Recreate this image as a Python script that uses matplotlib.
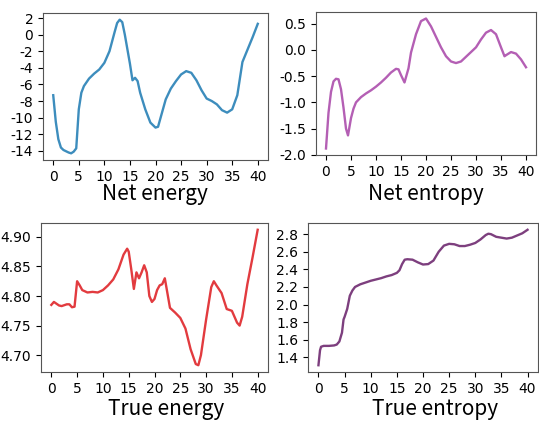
import numpy as np
import matplotlib.pyplot as plt
from matplotlib.ticker import FormatStrFormatter

# values
net_energy_t = [0, 0.5, 1, 1.5, 2, 3, 3.5, 4, 4.5, 5, 5.5, 6, 7, 8, 9, 10, 11, 12, 12.5, 13, 13.5,
                14, 15, 15.5, 16, 16.5, 17, 18, 19, 20, 20.5, 21, 22, 23, 24, 25, 26, 27, 28, 29,
                30, 31, 32, 33, 34, 35, 36, 37, 38, 39, 40]
net_energy = [-7.3, -10.5, -12.6, -13.6, -13.9, -14.2, -14.3, -14.1, -13.7, -9.0, -7.0, -6.2, -5.3,
              -4.7, -4.2, -3.4, -2.0, 0.3, 1.4, 1.8, 1.5, 0.0, -3.5, -5.5, -5.2, -5.6, -7.0, -9.0,
              -10.6, -11.2, -11.1, -10.0, -7.8, -6.5, -5.6, -4.8, -4.4, -4.6, -5.5, -6.7, -7.7,
              -8.0, -8.4, -9.1, -9.4, -9.0, -7.3, -3.3, -1.8, -0.3, 1.3]

net_entropy_t = [0, 0.5, 1, 1.5, 2, 2.5, 3, 3.5, 4, 4.4, 5, 5.5, 6, 7, 8, 9, 10, 11, 12, 13, 14,
                 14.5, 15, 15.7, 16.5, 17, 18, 19, 20, 21, 22, 23, 24, 25, 26, 27, 28, 29, 30, 31,
                 32, 33, 34, 35, 35.7, 36, 37, 38, 39, 40]
net_entropy = [-1.88, -1.2, -0.8, -0.6, -0.55, -0.56, -0.75, -1.1, -1.5, -1.63, -1.3, -1.12, -1.0,
               -0.9, -0.83, -0.77, -0.7, -0.62, -0.53, -0.43, -0.36, -0.37, -0.48, -0.62, -0.35,
               -0.05, 0.3, 0.55, 0.6, 0.45, 0.25, 0.05, -0.12, -0.22, -0.25, -0.22, -0.13, -0.04,
               0.05, 0.2, 0.33, 0.38, 0.3, 0.05, -0.12, -0.1, -0.04, -0.07, -0.18, -0.33]

true_energy_t = [0, 0.5, 1, 1.5, 2, 3, 3.5, 4, 4.5, 5, 5.5, 6, 7, 8, 9, 10, 11, 12, 13, 14, 14.7,
                 15, 15.5, 16, 16.5, 17, 17.5, 18, 18.5, 19, 19.5, 20, 20.5, 21, 21.5, 22, 22.5,
                 23, 24, 25, 26, 27, 28, 28.5, 29, 30, 31, 31.5, 32, 33, 34, 35, 36, 36.5, 37, 38,
                 39, 40]
true_energy = [4.785, 4.79, 4.787, 4.784, 4.783, 4.786, 4.786, 4.781, 4.782, 4.825, 4.818, 4.810,
               4.806, 4.807, 4.806, 4.81, 4.818, 4.828, 4.845, 4.87, 4.88, 4.875, 4.845, 4.812,
               4.84, 4.83, 4.84, 4.852, 4.84, 4.80, 4.79, 4.795, 4.81, 4.818, 4.82, 4.83, 4.805,
               4.78, 4.772, 4.763, 4.745, 4.71, 4.685, 4.683, 4.70, 4.76, 4.815, 4.825, 4.818,
               4.805, 4.778, 4.775, 4.755, 4.75, 4.765, 4.82, 4.865, 4.912]

true_entropy_t = [0, 0.3, 0.5, 1, 2, 3, 3.5, 4, 4.5, 4.8, 5, 5.5, 6, 6.5, 7, 8, 9, 10, 11, 12, 13,
                  14, 15, 15.5, 16, 16.5, 17, 18, 19, 20, 21, 22, 23, 24, 25, 26, 27, 28, 29, 30,
                  31, 32, 32.5, 33, 34, 35, 36, 37, 38, 39, 40]
true_entropy = [1.31, 1.48, 1.52, 1.53, 1.53, 1.535, 1.545, 1.58, 1.68, 1.83, 1.86, 1.95, 2.1,
                2.16, 2.2, 2.23, 2.25, 2.27, 2.285, 2.30, 2.32, 2.335, 2.36, 2.39, 2.46, 2.51,
                2.515, 2.51, 2.48, 2.455, 2.46, 2.5, 2.6, 2.67, 2.69, 2.685, 2.665, 2.665, 2.68,
                2.70, 2.74, 2.79, 2.805, 2.8, 2.77, 2.76, 2.75, 2.76, 2.785, 2.81, 2.85]

y_ticks = [
    (np.arange(-14, 3, 2), "%d"),
    (np.arange(-2.0, 0.51, 0.5), "%.1f"),
    (np.arange(4.70, 4.901, 0.05), "%.2f"),
    (np.arange(1.4, 2.81, 0.2), "%.1f"),
]

W, H = 539, 421
fig = plt.figure(figsize=(W / 100, H / 100), dpi=100)

def box(l, r, t, b):
    return [l / W, (H - b) / H, (r - l) / W, (b - t) / H]

panels = [
    (box(43, 268, 13, 160), net_energy_t, net_energy, "#3d8dbd", "Net energy", (155, 200)),
    (box(316, 536, 12, 155), net_entropy_t, net_entropy, "#b45fb4", "Net entropy", (426, 200)),
    (box(41, 268, 223, 372), true_energy_t, true_energy, "#e23b3f", "True energy", (166, 415)),
    (box(308, 538, 223, 372), true_entropy_t, true_entropy, "#7d3f7e", "True entropy", (435, 415)),
]

for (rect, t, v, color, label, (lx, ly)), (yt, fmt) in zip(panels, y_ticks):
    ax = fig.add_axes(rect)
    ax.plot(t, v, color=color, lw=1.7)
    ax.set_xticks(range(0, 41, 5))
    ax.set_yticks(yt)
    ax.yaxis.set_major_formatter(FormatStrFormatter(fmt))
    ax.tick_params(labelsize=10)
    for s in ax.spines.values():
        s.set_color("#555555")
    fig.text(lx / W, (H - ly) / H, label, ha="center", va="baseline", fontsize=15,
             family=["Noto Sans CJK JP", "DejaVu Sans"])

fig.savefig("out.png", dpi=100)
